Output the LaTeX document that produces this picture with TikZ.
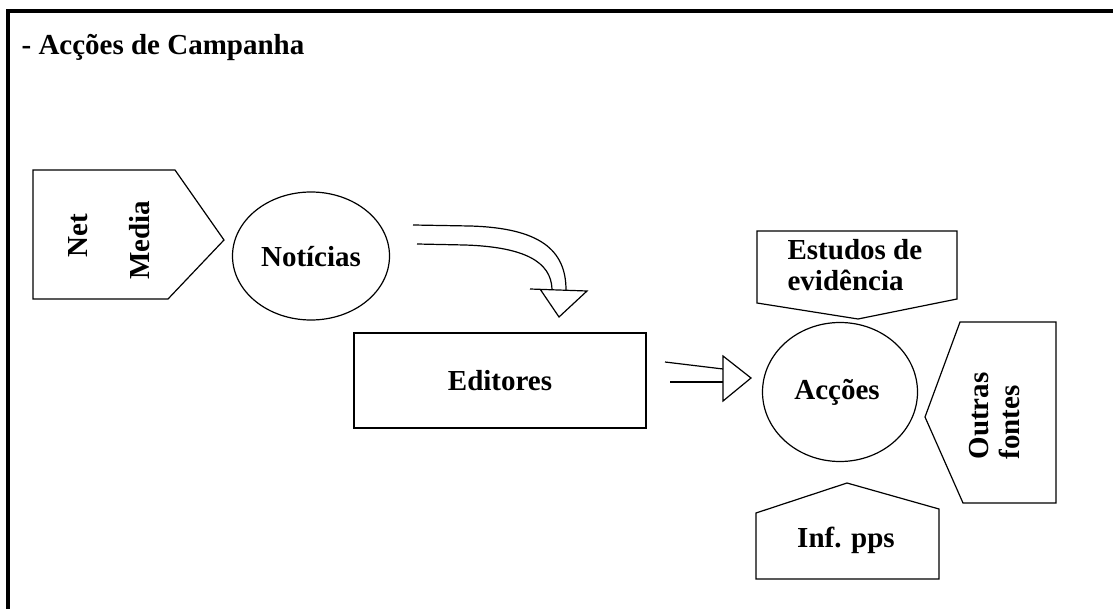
\documentclass[tikz,border=0pt]{standalone}
\usepackage{fontspec}
\setmainfont{Liberation Serif}
\usetikzlibrary{shapes.geometric}
\begin{document}
\begin{tikzpicture}[x=0.5pt, y=-0.5pt, line join=miter, line width=0.6pt,
	every node/.style={font=\fontsize{14.5}{15.5}\selectfont\bfseries, inner sep=0pt},
	bola/.style={draw, ellipse},
	caixa/.style={draw, rectangle}]
	\useasboundingbox (0,0) rectangle (1113,609);
	% moldura
	\draw[line width=2pt] (8,609) -- (8,11) -- (1113,11);
	\node[anchor=west] (titulo) at (21,47) {- Acções de Campanha};
	% net media
	\draw (33,235) -- (33,170) -- (175,170) -- (224,240) -- (168,299) -- (33,299) -- cycle;
	\node[rotate=90] (net) at (78,236) {Net};
	\node[rotate=90] (media) at (140,240) {Media};
	\node[bola, minimum width=78.5pt, minimum height=64pt] (noticias) at (311,256) {};
	\node (txtnot) at (311,257) {Notícias};
	% editores
	\node[caixa, minimum width=146pt, minimum height=47.5pt] (editores) at (500,380.5) {Editores};
	% accoes e fontes
	\node[bola, minimum width=77.5pt, minimum height=69.5pt] (accoes) at (840,392) {};
	\node (txtacc) at (837,392) {Acções};
	\draw (757,231) -- (957,231) -- (957,299) -- (858,319) -- (757,303) -- cycle;
	\node[anchor=west, align=left] (estudos) at (787,265) {Estudos de\\evidência};
	\draw (960,322) -- (1056,322) -- (1056,503) -- (963,503) -- (925,417) -- cycle;
	\node[rotate=90, align=left] (outras) at (995,416) {Outras\\fontes};
	\draw (756,513) -- (847,483) -- (939,509) -- (939,579) -- (756,579) -- cycle;
	\node (inf) at (846,540) {Inf. pps};
	% setas
	\coordinate (a1) at (413,225);
	\coordinate (a2) at (417,244);
	\coordinate (b1) at (566,290);
	\coordinate (b2) at (552,289);
	\draw (a1) -- (470,226) .. controls (540,228) and (566,250) .. (b1);
	\draw (a2) -- (465,245) .. controls (525,247) and (551,262) .. (b2);
	\draw (530,289) -- (587,291) -- (559,317) -- (540,289);
	\coordinate (c1) at (665,362);
	\coordinate (c2) at (670,382);
	\draw (c1) -- (723,369);
	\draw (c2) -- (723,382);
	\draw (723,356) -- (751,378) -- (723,401) -- cycle;
\end{tikzpicture}
\end{document}
